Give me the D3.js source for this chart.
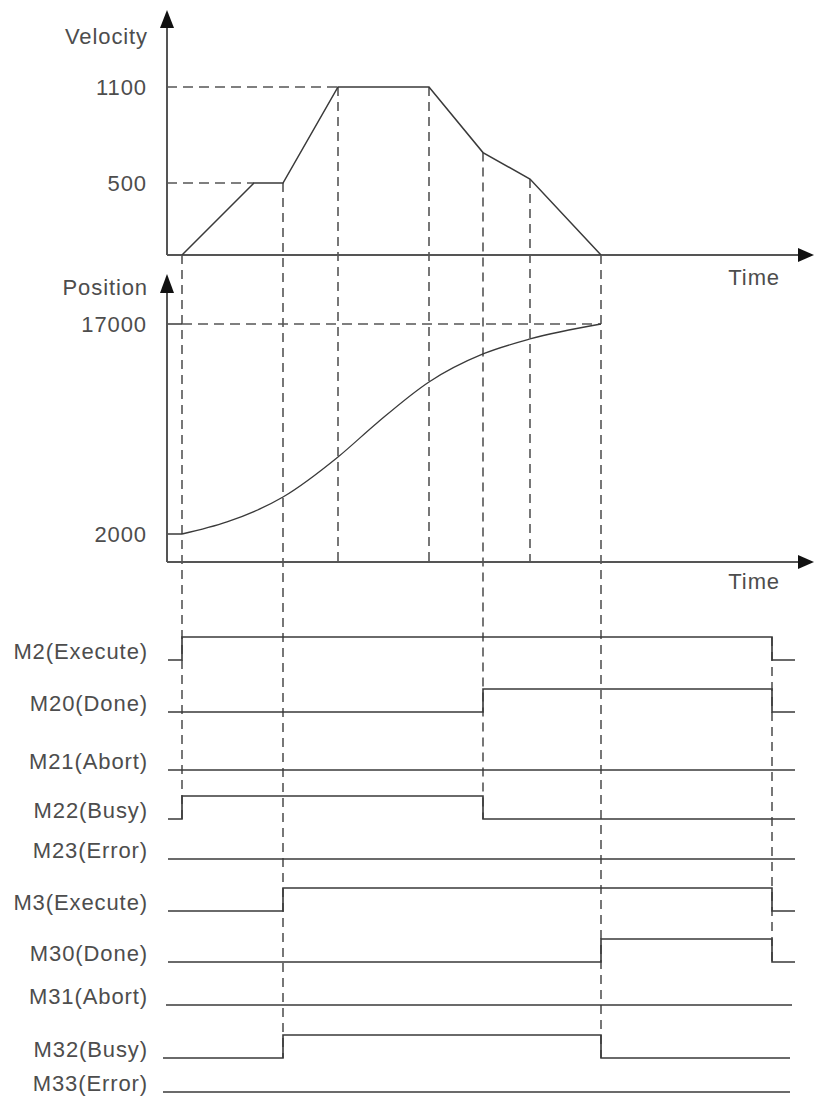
<!DOCTYPE html>
<html><head><meta charset="utf-8">
<script src="https://cdn.jsdelivr.net/npm/d3@7"></script>
<style>
body{margin:0;background:#fff}
text{font-family:'Liberation Sans',Arial,sans-serif;fill:#4d4d4d;letter-spacing:0.9px}
</style>
</head><body><svg id="c" width="814" height="1097"></svg>
<script>
// ---- data ----
const velTimes  = [15, 87, 116, 171, 262, 316, 363, 434];
const velValues = [0, 500, 500, 1100, 1100, 690, 525, 0];
const velTicks  = [500, 1100];
const posTimes  = [15, 60, 116, 171, 210, 262, 316, 363, 434];
const posValues = [2000, 2860, 4640, 7500, 9930, 12860, 14860, 15930, 17000];
const posTicks  = [2000, 17000];
const signalNames   = ["M2(Execute)","M20(Done)","M21(Abort)","M22(Busy)","M23(Error)",
                       "M3(Execute)","M30(Done)","M31(Abort)","M32(Busy)","M33(Error)"];
const signalToggles = [[15,605],[316,605],[],[15,316],[],[116,605],[434,605],[],[116,434],[]];
const signalStart   = [1,1,1,1,1,1,1,-1,-4,-4];
const signalEnd     = [628,628,628,628,628,628,628,625,623,623];
const endTime = 605;

// ---- layout ----
const rowLow = [660,712,770,819,859,911,962,1005,1058,1092];
const highOffset = 23;
const svg = d3.select("#c");
const x = d3.scaleLinear().domain([0,646]).range([167,813]);
const yVel = d3.scaleLinear().domain([0,500,1100]).range([255,183,87]);
const yPos = d3.scaleLinear().domain([0,17000]).range([562,324]);
const FONT = 22;
const axisCol = "#555", lineCol = "#3a3a3a", dashCol = "#555";

function arrowUp(xx, tip, base){
  svg.append("path").attr("d",`M${xx},${tip}L${xx-7},${base}L${xx+7},${base}Z`).attr("fill","#111");
}
function arrowRight(yy, tip, base){
  svg.append("path").attr("d",`M${tip},${yy}L${base},${yy-7}L${base},${yy+7}Z`).attr("fill","#111");
}
const dash = (x1,y1,x2,y2,da="10,6") => svg.append("line").attr("x1",x1).attr("y1",y1).attr("x2",x2).attr("y2",y2)
  .attr("stroke",dashCol).attr("stroke-width",1.6).attr("stroke-dasharray",da);
const solid = (x1,y1,x2,y2,c=axisCol,w=2) => svg.append("line").attr("x1",x1).attr("y1",y1).attr("x2",x2).attr("y2",y2)
  .attr("stroke",c).attr("stroke-width",w);

// ---- vertical guides ----
const guideIdx = [0,2,3,4,5,6,7];
const guideBottom = [rowLow[3], rowLow[8], yPos(0), yPos(0), rowLow[3], yPos(0), rowLow[8]];
guideIdx.forEach((gi,k)=>{
  dash(x(velTimes[gi]), yVel(velValues[gi]), x(velTimes[gi]), guideBottom[k], "9,6");
});
dash(x(endTime), rowLow[0]-highOffset, x(endTime), rowLow[6], "9,6");

// ---- horizontal guides ----
dash(x(0), yVel(1100), x(velTimes[3]), yVel(1100));
dash(x(0), yVel(500), x(velTimes[1]), yVel(500));
dash(x(velTimes[0]), yPos(17000), x(velTimes[7]), yPos(17000));
solid(x(0), yPos(17000), x(velTimes[0]), yPos(17000), lineCol, 1.5);
solid(x(0), yPos(2000), x(velTimes[0]), yPos(2000), lineCol, 1.5);

// ---- axes ----
solid(x(0), yVel(0), x(0), 22);
solid(x(0), yVel(0), 800, yVel(0));
arrowUp(x(0), 10, 28); arrowRight(yVel(0), 814, 798);
solid(x(0), yPos(0), x(0), 290);
solid(x(0), yPos(0), 800, yPos(0));
arrowUp(x(0), 274, 293); arrowRight(yPos(0), 814, 798);

const ax1 = svg.append("g").attr("transform",`translate(${x(0)},0)`)
  .call(d3.axisLeft(yVel).tickValues(velTicks).tickFormat(d3.format("d")).tickSize(0).tickPadding(20));
const ax2 = svg.append("g").attr("transform",`translate(${x(0)},0)`)
  .call(d3.axisLeft(yPos).tickValues(posTicks).tickFormat(d3.format("d")).tickSize(0).tickPadding(20));
[ax1,ax2].forEach(a=>{
  a.select(".domain").remove();
  a.selectAll("text").attr("font-size",FONT).attr("font-family","'Liberation Sans',Arial,sans-serif").attr("fill","#4d4d4d");
});

const label = (t,xx,yy,anchor="end") => svg.append("text").attr("x",xx).attr("y",yy)
  .attr("text-anchor",anchor).attr("dominant-baseline","middle").attr("font-size",FONT).text(t);
label("Velocity", 148, 38);
label("Position", 148, 289);
label("Time", 780, 279);
label("Time", 780, 583);

// ---- velocity profile ----
svg.append("path").datum(velTimes.map((t,i)=>[t,velValues[i]]))
  .attr("d", d3.line().x(d=>x(d[0])).y(d=>yVel(d[1])))
  .attr("fill","none").attr("stroke",lineCol).attr("stroke-width",1.5);

// ---- position curve ----
svg.append("path").datum(posTimes.map((t,i)=>[t,posValues[i]]))
  .attr("d", d3.line().curve(d3.curveMonotoneX).x(d=>x(d[0])).y(d=>yPos(d[1])))
  .attr("fill","none").attr("stroke",lineCol).attr("stroke-width",1.3);

// ---- signals ----
signalNames.forEach((name,i)=>{
  const pts = [[signalStart[i],0]];
  let lvl = 0;
  signalToggles[i].forEach(t=>{ pts.push([t,lvl]); lvl = 1-lvl; pts.push([t,lvl]); });
  pts.push([signalEnd[i],lvl]);
  svg.append("path").datum(pts)
    .attr("d", d3.line().x(d=>x(d[0])).y(d=>rowLow[i]-d[1]*highOffset))
    .attr("fill","none").attr("stroke",lineCol).attr("stroke-width",1.6);
  label(name, 148, rowLow[i]-7);
});
</script></body></html>
